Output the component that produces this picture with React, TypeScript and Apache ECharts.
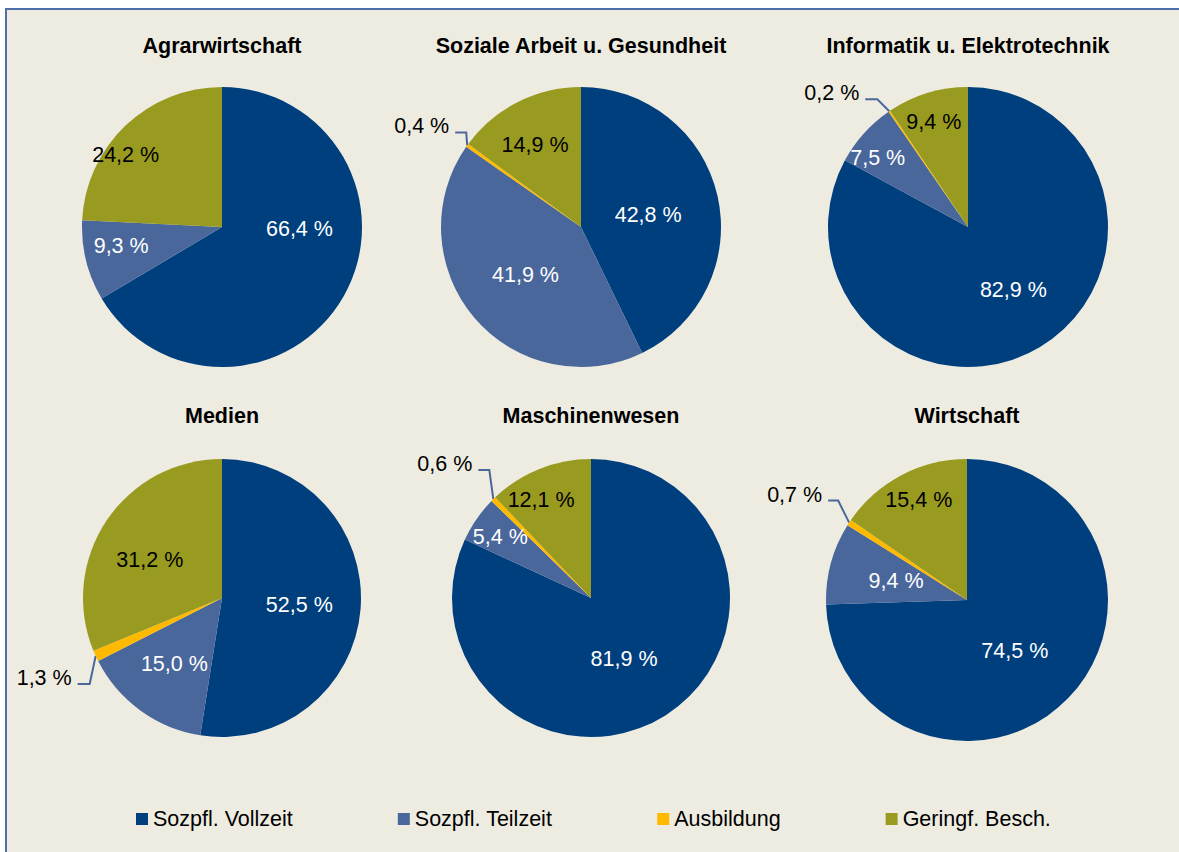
import React, { useEffect, useRef } from "react";
import * as echarts from "echarts";

// ---- data ----
const categories = ["Sozpfl. Vollzeit", "Sozpfl. Teilzeit", "Ausbildung", "Geringf. Besch."];
const titles = [
  "Agrarwirtschaft",
  "Soziale Arbeit u. Gesundheit",
  "Informatik u. Elektrotechnik",
  "Medien",
  "Maschinenwesen",
  "Wirtschaft",
];
const agrarwirtschaft = [66.4, 9.3, 0, 24.2];
const sozialeArbeit = [42.8, 41.9, 0.4, 14.9];
const informatik = [82.9, 7.5, 0.2, 9.4];
const medien = [52.5, 15.0, 1.3, 31.2];
const maschinenwesen = [81.9, 5.4, 0.6, 12.1];
const wirtschaft = [74.5, 9.4, 0.7, 15.4];
const seriesValues = [agrarwirtschaft, sozialeArbeit, informatik, medien, maschinenwesen, wirtschaft];

// ---- layout / style ----
const colors = ["#003F7E", "#4A679C", "#FFBA00", "#999A20"];
const labelColors = ["#FFFFFF", "#FFFFFF", "#000000", "#000000"];
const centers: [number, number][] = [
  [222, 227], [581, 227], [968, 227],
  [222, 598], [591, 598], [967, 600],
];
const radii = [140, 140, 140, 139, 139, 141];
const titleX = [222, 581, 968, 222, 591, 967];
const titleY = [35, 35, 35, 405, 405, 405];
// label nudges for inside labels (dx, dy) per chart per slice
const insideNudge: number[][][] = [
  [[14, -34], [-30, 1], [0, 0], [-46, -19]],
  [[-4, 4], [0, 1], [0, 0], [-13, -17]],
  [[8, 0], [-36, -20], [0, 0], [-13, -35]],
  [[5, 1], [-5, 7], [0, 0], [-12, 2]],
  [[-6, 0], [-31, -20], [0, 0], [-23, -31]],
  [[-5, 0], [0, 0], [0, 0], [-14, -35]],
];
// leader line for small outside labels: elbow dx, elbow dy, tail length
const leader: number[][] = [
  [0, 0, 0],
  [-1, -13, 11],
  [-12, -12, 12],
  [-6, 28, 12],
  [-4, -29, 11],
  [-11, -22, 10],
];

const FONT = "'Liberation Sans', Arial, Helvetica, sans-serif";
const FS = 21.5;

const fmt = (v: number) => `${v.toFixed(1).replace(".", ",")} %`;

export default function App() {
  const ref = useRef<HTMLDivElement>(null);
  useEffect(() => {
    if (!ref.current) return;
    const chart = echarts.init(ref.current, undefined, { renderer: "svg" });

    const series = seriesValues.map((vals, si) => ({
      type: "pie",
      name: titles[si],
      center: centers[si],
      radius: radii[si],
      startAngle: 90,
      clockwise: true,
      avoidLabelOverlap: false,
      silent: true,
      z: 2,
      itemStyle: { borderWidth: 0 },
      label: {
        show: true,
        position: "inside",
        fontFamily: FONT,
        fontSize: FS,
        formatter: (p: any) => fmt(p.value),
      },
      labelLine: { show: false },
      labelLayout: (params: any) => {
        const di = params.dataIndex;
        if (di === 2) {
          const pts = params.labelLinePoints;
          if (!pts || !pts.length) return {};
          const p0 = pts[0];
          const [ex, ey, tail] = leader[si];
          const p1 = [p0[0] + ex, p0[1] + ey];
          const p2 = [p1[0] - tail, p1[1]];
          return {
            x: p2[0] - 6,
            y: p2[1] - 6,
            align: "right",
            verticalAlign: "middle",
            labelLinePoints: [p0, p1, p2],
          };
        }
        const n = insideNudge[si][di];
        return { dx: n[0], dy: n[1] };
      },
      data: vals.map((v, di) => {
        const item: any = {
          name: categories[di],
          value: v,
          itemStyle: { color: colors[di] },
          label: { color: labelColors[di] },
        };
        if (di === 2) {
          if (v > 0) {
            item.label = { show: true, position: "outside", color: "#000000", distanceToLabelLine: 6 };
            item.labelLine = {
              show: true,
              length: 14,
              length2: 11,
              smooth: false,
              lineStyle: { color: "#4A679C", width: 2 },
            };
          } else {
            item.label = { show: false };
            item.labelLine = { show: false };
          }
        }
        return item;
      }),
    }));

    chart.setOption({
      animation: false,
      backgroundColor: "#FFFFFF",
      graphic: [
        {
          type: "rect",
          z: -10,
          silent: true,
          shape: { x: 6, y: 9, width: 1200, height: 900 },
          style: { fill: "#EEECE1", stroke: "#4E6FA8", lineWidth: 2 },
        },
      ],
      title: titles.map((t, i) => ({
        text: t,
        left: titleX[i],
        top: titleY[i],
        textAlign: "center",
        padding: 0,
        textStyle: { fontFamily: FONT, fontSize: FS, fontWeight: "bold", color: "#000000" },
      })),
      legend: {
        data: categories,
        left: 136,
        top: 807,
        orient: "horizontal",
        itemGap: 105,
        itemWidth: 12,
        itemHeight: 12,
        icon: "rect",
        padding: 0,
        selectedMode: false,
        textStyle: { fontFamily: FONT, fontSize: FS, color: "#000000", lineHeight: 24 },
      },
      series,
    });

    return () => chart.dispose();
  }, []);

  return (
    <div
      ref={ref}
      style={{ position: "absolute", left: 0, top: 0, width: 1179, height: 852 }}
    />
  );
}
